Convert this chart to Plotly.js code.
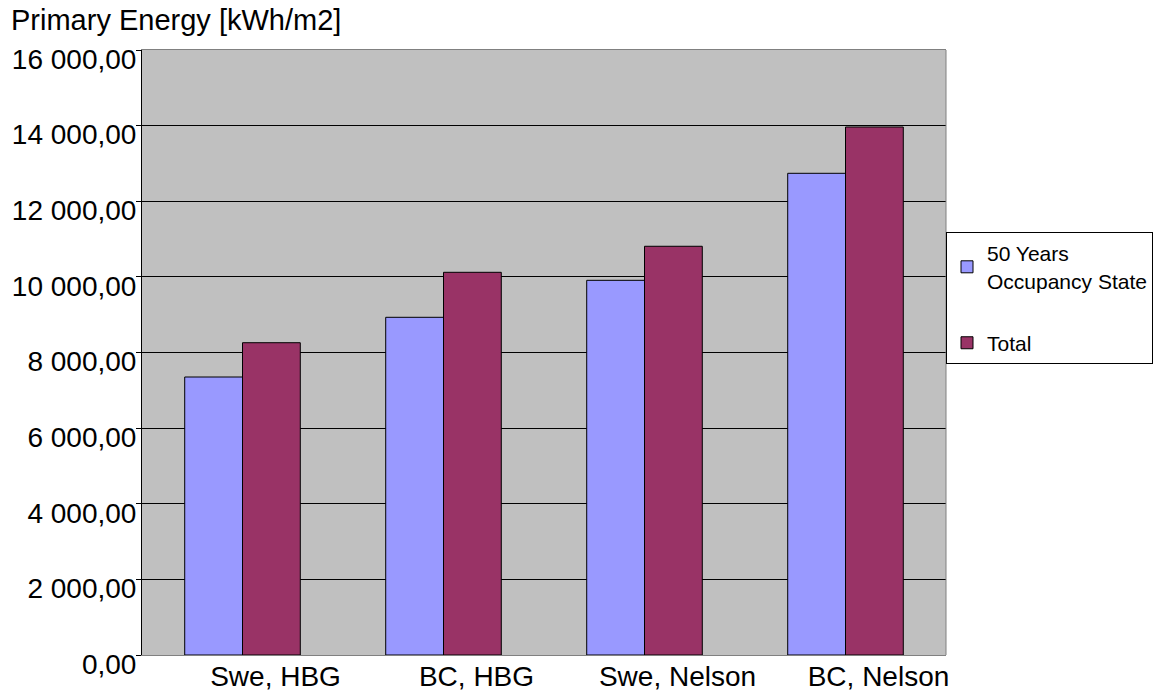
<!DOCTYPE html>
<html>
<head>
<meta charset="utf-8">
<script src="https://cdn.plot.ly/plotly-3.0.1.min.js"></script>
<style>
html,body{margin:0;padding:0;background:#fff;}
#chart{width:1157px;height:690px;}
</style>
</head>
<body>
<div id="chart"></div>
<script>
const categories = ["Swe, HBG", "BC, HBG", "Swe, Nelson", "BC, Nelson"];
const occupancyValues = [7352, 8931, 9909, 12739];
const totalValues = [8259, 10121, 10809, 13964];
const seriesNames = ["50 Years<br>Occupancy State", "Total"];
const yTitle = "Primary Energy [kWh/m2]";

const font = "Liberation Sans, Arial, sans-serif";

const traces = [
  {
    type: "bar",
    name: seriesNames[0],
    legendgroup: "a",
    x: categories,
    y: occupancyValues,
    marker: {color: "#9999FF", line: {color: "#000000", width: 1}}
  },
  {
    type: "bar",
    name: seriesNames[1],
    legendgroup: "b",
    x: categories,
    y: totalValues,
    marker: {color: "#993366", line: {color: "#000000", width: 1}}
  }
];

const layout = {
  width: 1157,
  height: 690,
  margin: {l: 142, r: 211, t: 50, b: 35, pad: 0, autoexpand: false},
  paper_bgcolor: "#FFFFFF",
  plot_bgcolor: "#C0C0C0",
  separators: ", ",
  barmode: "group",
  bargap: 0.425,
  bargroupgap: 0,
  font: {family: font, color: "#000000", size: 28},
  title: {
    text: yTitle,
    font: {family: font, size: 29, color: "#000000"},
    xref: "container", yref: "container",
    x: 11 / 1157, xanchor: "left",
    y: 1 - 10 / 690, yanchor: "top"
  },
  xaxis: {
    type: "category",
    showgrid: false,
    showline: true,
    linecolor: "#808080",
    linewidth: 1,
    mirror: true,
    ticks: "",
    ticklabelshift: 33,
    ticklabelstandoff: -4,
    tickfont: {family: font, size: 28, color: "#000000"}
  },
  yaxis: {
    range: [0, 16000],
    tickvals: [0, 2000, 4000, 6000, 8000, 10000, 12000, 14000, 16000],
    tickformat: ",.2f",
    showgrid: true,
    gridcolor: "#000000",
    gridwidth: 1,
    zeroline: false,
    showline: true,
    linecolor: "#000000",
    linewidth: 1,
    ticks: "outside",
    ticklen: 5,
    tickcolor: "#000000",
    ticklabelshift: 9,
    ticklabelstandoff: -6,
    tickfont: {family: font, size: 28, color: "#000000"}
  },
  legend: {
    x: 1, xanchor: "left",
    y: (655 - 232) / 605, yanchor: "top",
    bgcolor: "#FFFFFF",
    bordercolor: "#000000",
    borderwidth: 1,
    font: {family: font, size: 21, color: "#000000"},
    itemwidth: 30,
    tracegroupgap: 32,
    traceorder: "grouped"
  },
  shapes: [
    {type: "line", xref: "paper", yref: "paper", x0: 1, x1: 1, y0: 0, y1: 1,
     line: {color: "#808080", width: 1}}
  ],
  showlegend: true
};

Plotly.newPlot("chart", traces, layout, {displayModeBar: false, responsive: false});
</script>
</body>
</html>
